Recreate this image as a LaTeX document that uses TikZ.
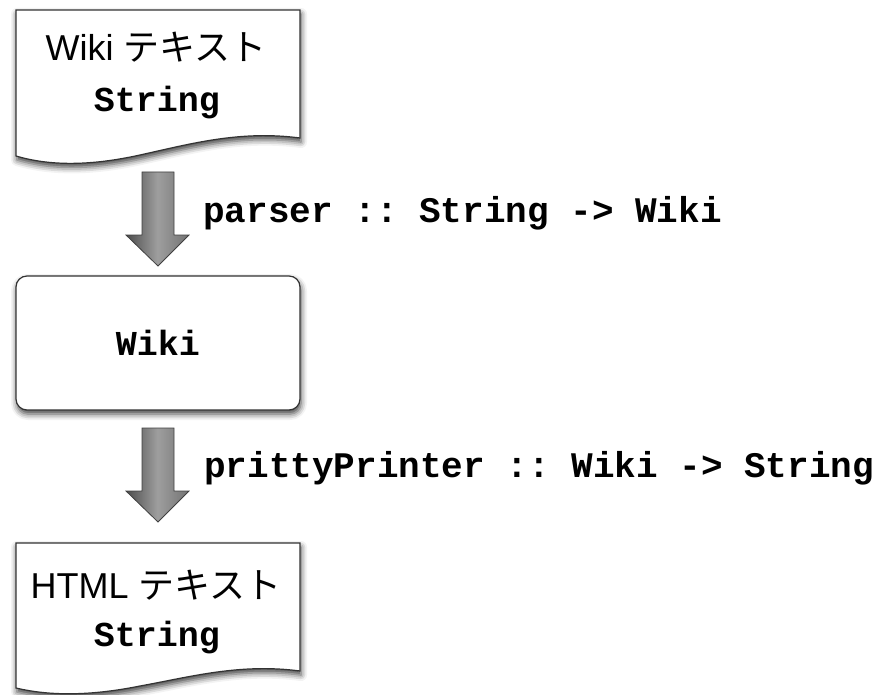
\documentclass[tikz,border=0pt]{standalone}
\usepackage{fontspec}
\setmainfont{Liberation Sans}
\setmonofont{Liberation Mono}
\newfontfamily\cjk{Noto Sans CJK JP}
\usetikzlibrary{calc,shadows.blur}
\tikzset{
  docshape/.style={draw=black!80, line width=1.2pt, fill=white,
    blur shadow={shadow xshift=1pt, shadow yshift=-4pt, shadow blur radius=6pt, shadow opacity=75}},
  boxshape/.style={draw=black!80, line width=1.2pt, fill=white, rounded corners=11pt,
    blur shadow={shadow xshift=1pt, shadow yshift=-4pt, shadow blur radius=6pt, shadow opacity=75}},
  bigarrow/.style={draw=black!75, line width=0.8pt, left color=black!70, right color=black!55, middle color=black!38},
  jtext/.style={font=\fontsize{36}{40}\selectfont, inner sep=0pt},
  ctext/.style={font=\fontsize{35}{40}\selectfont\ttfamily\bfseries, inner sep=0pt},
  ltext/.style={font=\fontsize{36}{40}\selectfont\ttfamily\bfseries, inner sep=0pt},
}
\begin{document}
\begin{tikzpicture}[x=1pt,y=-1pt]
\useasboundingbox (0,0) rectangle (880,695);
% top document
\path[docshape] (16,10) -- (300,10) -- (300,138)
  .. controls (240,130) and (190,144) .. (140,155)
  .. controls (90,166) and (50,166) .. (16,156) -- cycle;
\node[jtext] (t1) at (156,47) {Wiki {\cjk テキスト}};
\node[ctext] (s1) at (157,103) {String};
% middle box
\node[boxshape, minimum width=284pt, minimum height=134pt, ctext] (wiki) at (158,343) {Wiki};
% bottom document
\path[docshape] (16,543) -- (300,543) -- (300,671)
  .. controls (240,663) and (190,677) .. (140,686)
  .. controls (90,696) and (50,696) .. (16,688) -- cycle;
\node[jtext] (t3) at (156,585) {HTML {\cjk テキスト}};
\node[ctext] (s3) at (157,638) {String};
% arrows
\coordinate (a1s) at (158,172);
\coordinate (a1e) at (158,266);
\coordinate (a2s) at (158,428);
\coordinate (a2e) at (158,522);
\foreach \s/\e in {a1s/a1e, a2s/a2e}{
  \path[bigarrow] ($(\s)+(-16,0)$) -- ($(\s)+(16,0)$) -- ($(\e)+(16,-31)$) -- ($(\e)+(31,-31)$)
    -- (\e) -- ($(\e)+(-32,-31)$) -- ($(\e)+(-16,-31)$) -- cycle;
}
\node[ltext, anchor=west] (l1) at (203,213) {parser :: String -> Wiki};
\node[ltext, anchor=west] (l2) at (204,468) {prittyPrinter :: Wiki -> String};
\end{tikzpicture}
\end{document}
